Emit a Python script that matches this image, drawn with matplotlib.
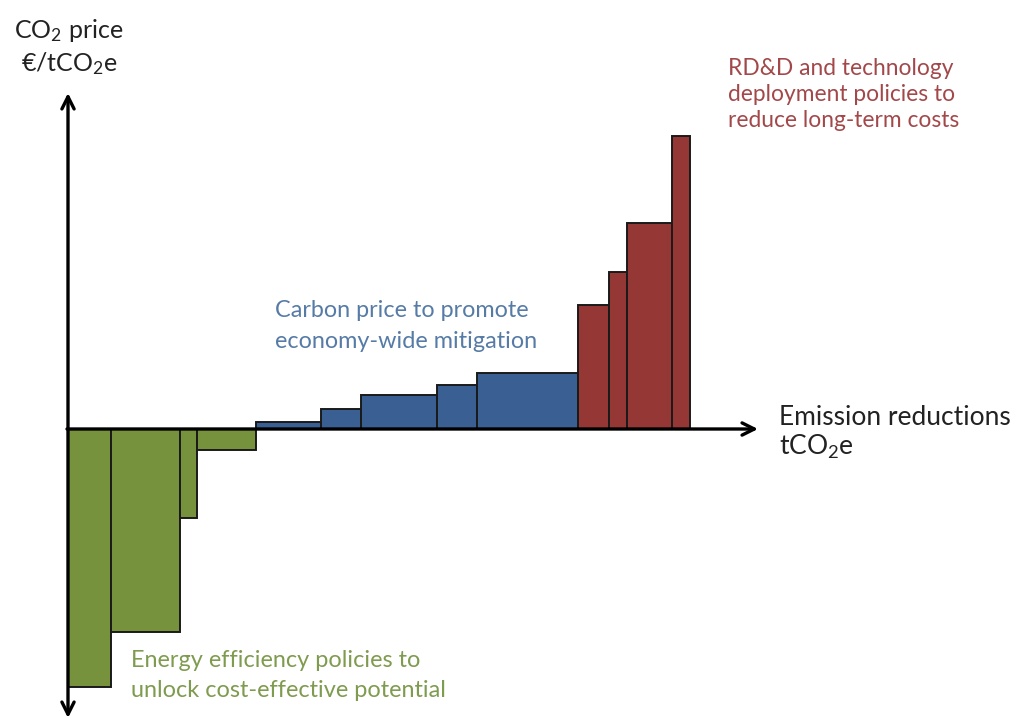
import numpy as np
import matplotlib
matplotlib.use("Agg")
import matplotlib.pyplot as plt

plt.rcParams['font.family'] = ['Lato', 'DejaVu Sans']
plt.rcParams['mathtext.fontset'] = 'custom'
plt.rcParams['mathtext.rm'] = 'Lato'
plt.rcParams['mathtext.it'] = 'Lato'

# --- data (abatement measures) ---
widths = [43, 69, 17, 59, 65, 40, 76, 40, 101, 31, 18, 45, 18]
costs = [-258, -203, -89, -21, 7, 20, 34, 44, 56, 124, 157, 206, 293]
groups = ['eff'] * 4 + ['price'] * 5 + ['rdd'] * 4

bar_colors = {'eff': '#76923c', 'price': '#3a5f93', 'rdd': '#953735'}
text_colors = {'eff': '#7f9b4f', 'price': '#557ba6', 'rdd': '#a3484a'}

lefts = np.concatenate([[0], np.cumsum(widths)[:-1]])

fig = plt.figure(figsize=(10.18, 7.24), dpi=100)
ax = fig.add_axes([0, 0, 1, 1])
ax.set_xlim(-68, 950)
ax.set_ylim(-295, 429)
ax.axis('off')

ax.bar(lefts, costs, width=widths, align='edge',
       color=[bar_colors[g] for g in groups],
       edgecolor='#1a1a1a', linewidth=1.4, zorder=2)

# axes drawn as arrows (y axis has heads at both ends)
arrow = dict(arrowstyle='->', color='black', lw=2.4, mutation_scale=22,
             shrinkA=0, shrinkB=0)
ax.annotate('', xy=(0, 336), xytext=(0, -289),
            arrowprops=dict(arrow, arrowstyle='<->'), zorder=3)
ax.annotate('', xy=(690, 0), xytext=(-1, 0), arrowprops=arrow, zorder=3)


def lines(x, y0, step, rows, color, fs, ha='left'):
    for i, r in enumerate(rows):
        ax.text(x, y0 - i * step, r, fontsize=fs, color=color,
                ha=ha, va='baseline')


lines(1, 391, 33, ['CO$_2$ price', '€/tCO$_2$e'], '#222222', 18, ha='center')
lines(711, 4, 30, ['Emission reductions', 'tCO$_2$e'], '#222222', 19)
lines(207, 112, 31, ['Carbon price to promote', 'economy-wide mitigation'],
      text_colors['price'], 16.8)
lines(63, -238, 30, ['Energy efficiency policies to',
                     'unlock cost-effective potential'], text_colors['eff'], 16.9)
lines(660, 354, 26, ['RD&D and technology', 'deployment policies to',
                     'reduce long-term costs'], text_colors['rdd'], 16.4)

fig.savefig('out.png', dpi=100)
